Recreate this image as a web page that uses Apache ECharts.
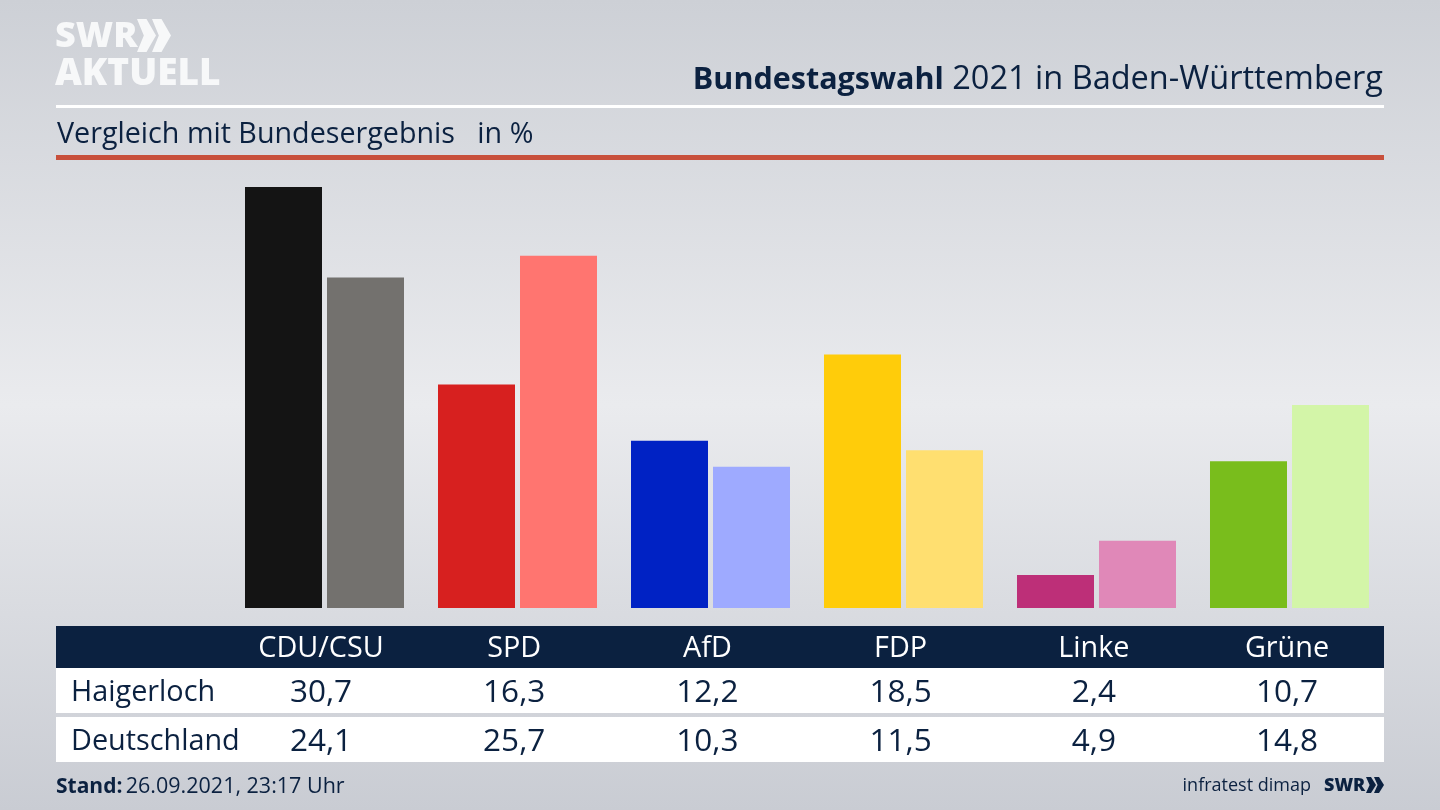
<!DOCTYPE html>
<html>
<head>
<meta charset="utf-8">
<title>Bundestagswahl 2021 in Baden-Württemberg</title>
<script src="https://cdn.jsdelivr.net/npm/echarts@6/dist/echarts.min.js"></script>
<style>
html, body { margin: 0; padding: 0; }
#chart { width: 1440px; height: 810px; }
</style>
</head>
<body>
<div id="chart"></div>
<script>
// values
const parties = ['CDU/CSU', 'SPD', 'AfD', 'FDP', 'Linke', 'Grüne'];
const haigerloch = [30.7, 16.3, 12.2, 18.5, 2.4, 10.7];
const deutschland = [24.1, 25.7, 10.3, 11.5, 4.9, 14.8];
const colorsDark = ['#141414', '#d7201f', '#0022c4', '#ffcc0a', '#bd2f78', '#79bd1c'];
const colorsLight = ['#73716e', '#ff7570', '#9eaaff', '#ffdf70', '#e088b8', '#d3f5a8'];

const NAVY = '#0b2140';
const FONT = '"Open Sans", "Noto Sans", sans-serif';
const comma = v => v.toFixed(1).replace('.', ',');

const chart = echarts.init(document.getElementById('chart'));

// table columns sit a little left of the bar groups
const colX = i => 321 + i * 193.2;

const text = (x, y, str, size, fill, align, extra) => ({
    type: 'text',
    x: x,
    y: y,
    style: Object.assign({
        text: str,
        fontFamily: FONT,
        fontSize: size,
        fill: fill,
        align: align || 'left',
        verticalAlign: 'middle'
    }, extra || {})
});

const rect = (x, y, w, h, fill) => ({
    type: 'rect',
    shape: { x: x, y: y, width: w, height: h },
    style: { fill: fill }
});

// solid arrow with a shallow notch, as in the SWR mark
const chevron = (x, y, w, h, fill) => ({
    type: 'polygon',
    shape: { points: [[x, y], [x + w * 0.5, y], [x + w, y + h / 2], [x + w * 0.5, y + h], [x, y + h], [x + w * 0.36, y + h / 2]] },
    style: { fill: fill }
});

const tableCells = [];
parties.forEach((p, i) => {
    tableCells.push(text(colX(i), 649, p, 28.8, '#ffffff', 'center'));
    tableCells.push(text(colX(i), 693, comma(haigerloch[i]), 31.5, NAVY, 'center'));
    tableCells.push(text(colX(i), 742, comma(deutschland[i]), 31.5, NAVY, 'center'));
});

chart.setOption({
    animation: false,
    backgroundColor: {
        type: 'linear', x: 0, y: 0, x2: 0, y2: 1,
        colorStops: [
            { offset: 0, color: '#cdd0d6' },
            { offset: 0.5, color: '#eaebee' },
            { offset: 1, color: '#c9ccd3' }
        ]
    },
    grid: { left: 228, width: 1158, top: 169.3, height: 438.7 },
    xAxis: {
        type: 'category',
        data: parties,
        axisLine: { show: false },
        axisTick: { show: false },
        axisLabel: { show: false }
    },
    yAxis: { type: 'value', min: 0, max: 32, show: false, splitLine: { show: false } },
    series: [
        {
            name: 'Haigerloch',
            type: 'bar',
            data: haigerloch,
            barWidth: 77,
            barGap: '6.5%',
            itemStyle: { color: p => colorsDark[p.dataIndex] }
        },
        {
            name: 'Deutschland',
            type: 'bar',
            data: deutschland,
            barWidth: 77,
            barGap: '6.5%',
            itemStyle: { color: p => colorsLight[p.dataIndex] }
        }
    ],
    graphic: [
        // logo
        text(55, 37, 'SWR', 36, '#f7f8f9', 'left', { fontWeight: 800 }),
        chevron(137, 19, 19, 33, '#f7f8f9'),
        chevron(152, 19, 19, 33, '#f7f8f9'),
        text(55, 74, 'AKTUELL', 37, '#f7f8f9', 'left', { fontWeight: 800 }),

        // header
        rect(56, 105, 1328, 3, '#ffffff'),
        {
            type: 'text',
            x: 1383,
            y: 80,
            style: {
                text: '{b|Bundestagswahl}{r| 2021 in Baden-Württemberg}',
                align: 'right',
                verticalAlign: 'middle',
                rich: {
                    b: { fontFamily: FONT, fontSize: 30.5, fontWeight: 'bold', fill: NAVY },
                    r: { fontFamily: FONT, fontSize: 32.5, fill: NAVY }
                }
            }
        },
        text(57, 135, 'Vergleich mit Bundesergebnis   in %', 28.7, NAVY),
        rect(56, 155, 1328, 5, '#c8503c'),

        // table
        rect(56, 626, 1328, 42, NAVY),
        rect(56, 668, 1328, 45, '#ffffff'),
        rect(56, 717, 1328, 45, '#ffffff'),
        text(71, 693, 'Haigerloch', 28.8, NAVY),
        text(71, 742, 'Deutschland', 28.8, NAVY),
        ...tableCells,

        // footer
        {
            type: 'text',
            x: 56,
            y: 787,
            style: {
                text: '{b|Stand:} {r|26.09.2021, 23:17 Uhr}',
                verticalAlign: 'middle',
                rich: {
                    b: { fontFamily: FONT, fontSize: 21, fontWeight: 'bold', fill: NAVY },
                    r: { fontFamily: FONT, fontSize: 21.5, fill: NAVY }
                }
            }
        },
        text(1311, 786, 'infratest dimap', 18, NAVY, 'right'),
        text(1324, 786, 'SWR', 18, NAVY, 'left', { fontWeight: 800 }),
        chevron(1366, 777, 10, 16, NAVY),
        chevron(1374, 777, 10, 16, NAVY)
    ]
});
</script>
</body>
</html>
